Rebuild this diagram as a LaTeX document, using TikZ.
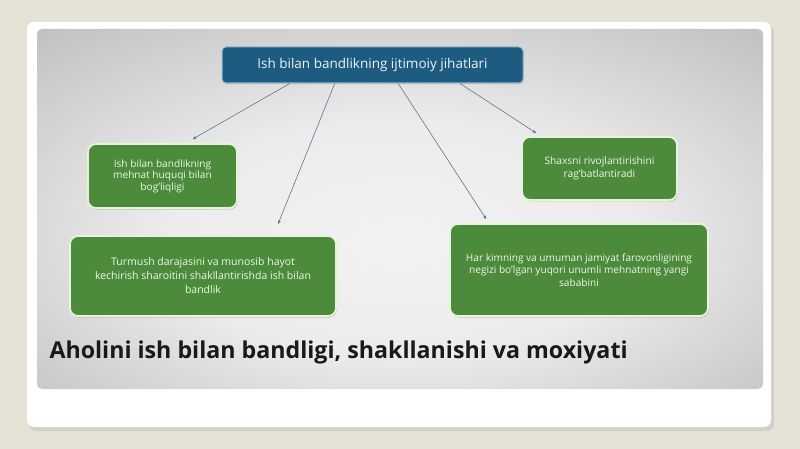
\documentclass[tikz,border=0pt]{standalone}
\usepackage{fontspec}
\setmainfont{Open Sans}
\usetikzlibrary{calc,shadows,arrows.meta}
\definecolor{bgbeige}{HTML}{E5E3D5}
\definecolor{panelmid}{HTML}{F2F2F2}
\definecolor{panelout}{HTML}{A4A4A4}
\definecolor{topblue}{HTML}{1D5B80}
\definecolor{topedge}{HTML}{8FBBD3}
\definecolor{boxgreen}{HTML}{4B8B3B}
\definecolor{boxedge}{HTML}{E6F3DD}
\definecolor{arrowcol}{HTML}{5B6B85}
\definecolor{greentext}{HTML}{EEF7E8}
\pgfdeclareradialshading{panelshade}{\pgfpoint{0bp}{-5bp}}{color(0bp)=(panelmid); color(16bp)=(panelmid!92!panelout); color(38bp)=(panelmid!35!panelout); color(50bp)=(panelout); color(80bp)=(panelout)}
\tikzset{
  greenbox/.style={draw=boxedge, line width=1.8pt, fill=boxgreen, rounded corners=8pt,
    text=greentext, align=center, font=\fontsize{9.5}{12}\selectfont, inner sep=4pt,
    drop shadow={opacity=0.35, shadow xshift=1pt, shadow yshift=-1.5pt}},
  topbox/.style={draw=topedge, line width=1pt, fill=topblue, rounded corners=4pt,
    text=white!92!topblue, font=\fontsize{13.5}{16}\selectfont,
    drop shadow={opacity=0.4, shadow xshift=0.8pt, shadow yshift=-1.2pt}},
  conn/.style={draw=arrowcol, line width=0.55pt, -{Stealth[length=4pt,width=3pt]}}
}
\begin{document}
\begin{tikzpicture}[x=1pt,y=-1pt]
\useasboundingbox (0,0) rectangle (800,449);
\fill[bgbeige] (0,0) rectangle (800,449);
% white card
\fill[black!25, opacity=0.5, rounded corners=7pt] (29,25) rectangle (774,431);
\fill[white, rounded corners=7pt] (27,22) rectangle (771,427);
% gray panel
\shade[shading=panelshade, rounded corners=5pt] (37,29) rectangle (763,389);
% top box
\node[topbox, minimum width=301pt, minimum height=36pt] (top) at (372.5,65) {Ish bilan bandlikning ijtimoiy jihatlari};
% green boxes
\node[greenbox, minimum width=149pt, minimum height=64pt, font=\fontsize{10.1}{11.6}\selectfont] (b1) at (162.5,176) {Ish bilan bandlikning\\mehnat huquqi bilan\\bog'liqligi};
\node[greenbox, minimum width=155pt, minimum height=63pt, font=\fontsize{10.2}{13.5}\selectfont] (b2) at (599.5,168.5) {Shaxsni rivojlantirishini\\rag'batlantiradi};
\node[greenbox, minimum width=266pt, minimum height=80pt, font=\fontsize{10.5}{14}\selectfont] (b3) at (203,276) {Turmush darajasini va munosib hayot\\kechirish sharoitini shakllantirishda ish bilan\\bandlik};
\node[greenbox, minimum width=258pt, minimum height=92pt, font=\fontsize{10.1}{12.2}\selectfont] (b4) at (579,270) {Har kimning va umuman jamiyat farovonligining\\negizi bo'lgan yuqori unumli mehnatning yangi\\sababini};
% connector start/end points
\coordinate (s1) at ($(top.south west)!0.226!(top.south east)$);
\coordinate (s2) at ($(top.south west)!0.375!(top.south east)$);
\coordinate (s3) at ($(top.south west)!0.585!(top.south east)$);
\coordinate (s4) at ($(top.south west)!0.79!(top.south east)$);
\coordinate (e1) at ($(b1.north west)!0.70!(b1.north east)+(0,-4)$);
\coordinate (e2) at ($(b3.north west)!0.78!(b3.north east)+(0,-11)$);
\coordinate (e3) at ($(b4.north west)!0.143!(b4.north east)+(0,-4)$);
\coordinate (e4) at ($(b2.north west)!0.097!(b2.north east)+(0,-3)$);
\draw[conn] (s1) -- (e1);
\draw[conn] (s2) -- (e2);
\draw[conn] (s3) -- (e3);
\draw[conn] (s4) -- (e4);
% title
\node[anchor=west, font=\bfseries\fontsize{23.2}{27}\selectfont, text=black!90] (title) at (46,352) {Aholini ish bilan bandligi, shakllanishi va moxiyati};
\end{tikzpicture}
\end{document}
